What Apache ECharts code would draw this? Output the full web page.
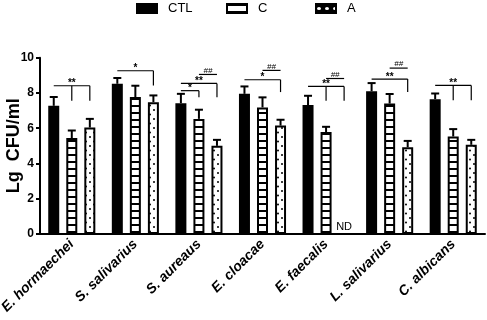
<!DOCTYPE html>
<html><head><meta charset="utf-8">
<script src="https://cdn.jsdelivr.net/npm/echarts@6/dist/echarts.min.js"></script>
<style>html,body{margin:0;padding:0;background:#fff}#c{width:487px;height:320px}</style>
</head><body><div id="c"></div>
<script>
const categories = ['E. hormaechei','S. salivarius','S. aureaus','E. cloacae','E. faecalis','L. salivarius','C. albicans'];
const seriesNames = ['CTL','C','A'];
const ctlMean = [7.27, 8.52, 7.42, 7.95, 7.31, 8.10, 7.65];
const ctlSd   = [0.50, 0.33, 0.53, 0.42, 0.53, 0.46, 0.32];
const cMean   = [5.44, 7.77, 6.53, 7.18, 5.78, 7.40, 5.53];
const cSd     = [0.43, 0.64, 0.52, 0.57, 0.30, 0.54, 0.42];
const aMean   = [6.04, 7.48, 5.00, 6.15, null, 4.92, 5.06];
const aSd     = [0.49, 0.38, 0.34, 0.33, null, 0.36, 0.28];
const yMin = 0, yMax = 10, yStep = 2;
// [category, fromBar, toBar, lineValue, dropValue, dropBars, label]
const sigBrackets = [
  [0, 0, 2, 8.41, 7.56, [1, 2], '**'],
  [1, 0, 2, 9.26, 8.43, [2], '*'],
  [2, 0, 1, 8.13, 7.75, [1], '*'],
  [2, 0, 2, 8.54, 7.75, [2], '**'],
  [2, 1, 2, 9.05, null, [], '##'],
  [3, 0, 2, 8.75, 8.05, [2], '*'],
  [3, 1, 2, 9.28, null, [], '##'],
  [4, 0, 2, 8.37, 7.56, [1, 2], '**'],
  [4, 1, 2, 8.82, null, [], '##'],
  [5, 0, 2, 8.79, 8.05, [2], '**'],
  [5, 1, 2, 9.41, null, [], '##'],
  [6, 0, 2, 8.43, 7.58, [1, 2], '**']
];
// [category, bar, text]
const ndMarks = [[4, 2, 'ND']];

const FONT = '"Liberation Sans", Arial, sans-serif';
const BAR_W = 11, BAR_GAP = 0.64;
const barOffset = i => (i - 1) * BAR_W * (1 + BAR_GAP);

function makeCanvas(w, h, draw) {
  const cv = document.createElement('canvas');
  cv.width = w; cv.height = h;
  draw(cv.getContext('2d'));
  return cv;
}
const stripeCanvas = makeCanvas(8, 7, ctx => {
  ctx.fillStyle = '#fff'; ctx.fillRect(0, 0, 8, 7);
  ctx.fillStyle = '#000'; ctx.fillRect(0, 0, 8, 2);
});
const dotCanvas = makeCanvas(8, 9, ctx => {
  ctx.fillStyle = '#fff'; ctx.fillRect(0, 0, 8, 9);
  ctx.fillStyle = '#000';
  ctx.beginPath(); ctx.arc(2, 2, 1, 0, Math.PI * 2); ctx.fill();
  ctx.beginPath(); ctx.arc(6, 6.5, 1, 0, Math.PI * 2); ctx.fill();
});
const dotInvCanvas = makeCanvas(8, 9, ctx => {
  ctx.fillStyle = '#000'; ctx.fillRect(0, 0, 8, 9);
  ctx.fillStyle = '#fff';
  ctx.beginPath(); ctx.ellipse(3, 4.5, 2, 1.5, 0, 0, Math.PI * 2); ctx.fill();
});
const stripeFill = { image: stripeCanvas, repeat: 'repeat' };
const dotFill = { image: dotCanvas, repeat: 'repeat' };
const dotInvFill = { image: dotInvCanvas, repeat: 'repeat' };

const means = [ctlMean, cMean, aMean];
const sds = [ctlSd, cSd, aSd];
const fills = ['#000', stripeFill, dotFill];

function errRender(barIdx) {
  return function (params, api) {
    const cat = api.value(0), m = api.value(1), sd = api.value(2);
    const p0 = api.coord([cat, m]), p1 = api.coord([cat, m + sd]);
    const x = p0[0] + barOffset(barIdx);
    const st = { stroke: '#000', lineWidth: 2 };
    return { type: 'group', children: [
      { type: 'line', shape: { x1: x, y1: p0[1], x2: x, y2: p1[1] }, style: st },
      { type: 'line', shape: { x1: x - 4, y1: p1[1], x2: x + 4, y2: p1[1] }, style: st }
    ]};
  };
}

function sigRender(params, api) {
  const b = sigBrackets[api.value(0)];
  const [cat, from, to, yLine, yDrop, drops, label] = b;
  const base = api.coord([cat, yLine]);
  const xFrom = base[0] + barOffset(from), xTo = base[0] + barOffset(to);
  const y = base[1];
  const ls = { stroke: '#000', lineWidth: 1.2 };
  const children = [{ type: 'line', shape: { x1: xFrom, y1: y, x2: xTo, y2: y }, style: ls }];
  drops.forEach(d => {
    const yd = api.coord([cat, yDrop])[1];
    const xd = base[0] + barOffset(d);
    children.push({ type: 'line', shape: { x1: xd, y1: y, x2: xd, y2: yd }, style: ls });
  });
  const isHash = label.indexOf('#') >= 0;
  children.push({ type: 'text', x: (xFrom + xTo) / 2, y: isHash ? y - 4 : y - 2,
    style: { text: label, align: 'center', verticalAlign: 'middle', textAlign: 'center', textVerticalAlign: 'middle',
      fill: '#000', font: isHash ? 'italic 8px ' + FONT : 'bold 10px ' + FONT } });
  return { type: 'group', children };
}

function ndRender(params, api) {
  const m = ndMarks[api.value(0)];
  const p = api.coord([m[0], 0.4]);
  return { type: 'text', x: p[0] + barOffset(m[1]), y: p[1],
    style: { text: m[2], align: 'center', verticalAlign: 'middle', textAlign: 'center', textVerticalAlign: 'middle',
      fill: '#000', font: '11px ' + FONT } };
}

const series = [];
seriesNames.forEach((name, i) => {
  series.push({
    name, type: 'bar', barWidth: BAR_W, barGap: (BAR_GAP * 100) + '%',
    data: means[i].map(v => v == null ? '-' : v),
    itemStyle: { color: fills[i], borderColor: '#000', borderWidth: 2 },
    animation: false
  });
});
seriesNames.forEach((name, i) => {
  series.push({
    type: 'custom', name: name + '_err', z: 3, renderItem: errRender(i), animation: false, silent: true,
    data: means[i].map((v, k) => [k, v, sds[i][k]]).filter(d => d[1] != null)
  });
});
series.push({ type: 'custom', name: 'sig', z: 4, renderItem: sigRender, animation: false, silent: true,
  data: sigBrackets.map((b, i) => [i, b[3]]) , encode: { x: -1, y: 1 } });
series.push({ type: 'custom', name: 'nd', z: 4, renderItem: ndRender, animation: false, silent: true,
  data: ndMarks.map((m, i) => [i, 0.4]), encode: { x: -1, y: 1 } });

const legendBase = { top: 2, padding: 0, itemWidth: 20, itemHeight: 9, selectedMode: false, icon: 'rect',
  textStyle: { fontFamily: FONT, fontSize: 13, color: '#000', padding: [0, 0, 0, 6] } };

const chart = echarts.init(document.getElementById('c'), null, { renderer: 'canvas' });
chart.setOption({
  animation: false,
  backgroundColor: '#fff',
  legend: [
    Object.assign({}, legendBase, { left: 136, data: [{ name: 'CTL' }] }),
    Object.assign({}, legendBase, { left: 226, data: [{ name: 'C' }] }),
    Object.assign({}, legendBase, { left: 315, data: [{ name: 'A', itemStyle: { color: dotInvFill } }] })
  ],
  grid: { left: 40, right: 2, top: 57.7, bottom: 86, containLabel: false, outerBoundsMode: 'none' },
  xAxis: {
    type: 'category', data: categories,
    axisLine: { lineStyle: { color: '#000', width: 2 } },
    axisTick: { alignWithLabel: true, length: 5, lineStyle: { color: '#000', width: 2 } },
    axisLabel: { rotate: 45, margin: 8, interval: 0, color: '#000', fontFamily: FONT, fontSize: 14, fontWeight: 'bold', fontStyle: 'italic' }
  },
  yAxis: {
    type: 'value', min: yMin, max: yMax, interval: yStep,
    name: 'Lg  CFU/ml', nameLocation: 'middle', nameGap: 17, nameRotate: 90, nameMoveOverlap: false,
    nameTextStyle: { color: '#000', fontFamily: FONT, fontSize: 18, fontWeight: 'bold' },
    axisLine: { show: true, lineStyle: { color: '#000', width: 2 } },
    axisTick: { show: true, length: 4, lineStyle: { color: '#000', width: 2 } },
    axisLabel: { margin: 6, color: '#000', fontFamily: FONT, fontSize: 12, fontWeight: 'bold' },
    splitLine: { show: false }
  },
  series
});
</script>
</body></html>
